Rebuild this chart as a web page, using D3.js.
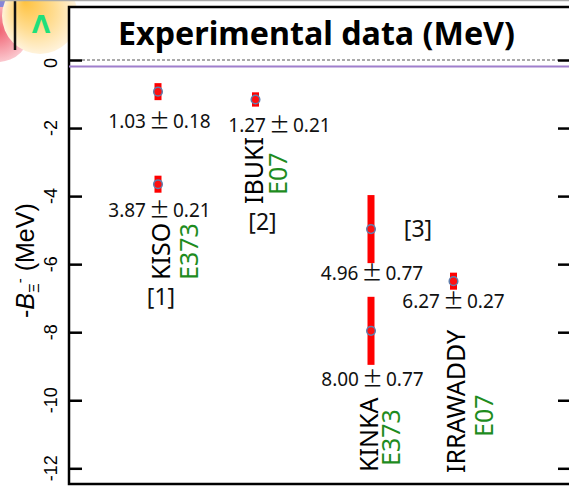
<!DOCTYPE html>
<html><head><meta charset="utf-8">
<script src="https://cdn.jsdelivr.net/npm/d3@7"></script>
<style>html,body{margin:0;padding:0;background:#fff;overflow:hidden}</style>
</head><body>
<svg id="c" width="569" height="486"></svg>
<script>
// ---- data ----
const experiments = ["KISO", "IBUKI", "KINKA", "IRRAWADDY"];
const experimentIds = ["E373", "E07", "E373", "E07"];
const references = ["[1]", "[2]", "[3]", ""];
const experimentX = [1.78, 3.73, 6.04, 7.69];          // position along the (unitless) x axis, 0..10
const pointExperiment = [0, 0, 1, 2, 2, 3];
const pointValue = [-0.93, -3.65, -1.16, -4.97, -7.96, -6.5];
const pointError = [0.25, 0.25, 0.21, 1.0, 1.0, 0.25];
const pointLabelValue = ["1.03", "3.87", "1.27", "4.96", "8.00", "6.27"];
const pointLabelError = ["0.18", "0.21", "0.21", "0.77", "0.77", "0.27"];
const yTicks = [0, -2, -4, -6, -8, -10, -12];
const thresholdValue = -0.19;

// ---- layout (pixel offsets, styling) ----
const labelOffsets = [[1.5, 36], [1.5, 32.7], [24, 32.4], [1, 51], [1.5, 55.3], [0, 27]];
const nameLayout = [ // [name dx, name start y, id dx, id start y]
  [12, 280, 40, 280], [7.3, 204, 31, 195], [7, 472, 29, 466], [11, 473, 39, 437]];
const refLayout = [[3, 305], [7, 230], [47, 237], [0, 0]];

const svg = d3.select("#c");
const pLeft = 69, pRight = 569, pTop = 7, pBottom = 484;
const x = d3.scaleLinear().domain([0, 10]).range([pLeft, pRight]);
const y = d3.scaleLinear().domain([0, -12]).range([60, 468.3]);
const FONT = "'Noto Sans', 'DejaVu Sans', sans-serif";
const GREEN = "#1e8c1e";

// ---- top-left decoration ----
const defs = svg.append("defs");
const g1 = defs.append("radialGradient").attr("id", "pinkG");
g1.append("stop").attr("offset", "0%").attr("stop-color", "#f0606f");
g1.append("stop").attr("offset", "100%").attr("stop-color", "#fbc8cf");
const g2 = defs.append("radialGradient").attr("id", "yelG").attr("fx", "30%").attr("fy", "30%");
g2.append("stop").attr("offset", "0%").attr("stop-color", "#ffc23f");
g2.append("stop").attr("offset", "55%").attr("stop-color", "#ffdc90");
g2.append("stop").attr("offset", "100%").attr("stop-color", "#fff3dc");
svg.append("circle").attr("cx", -2).attr("cy", 30).attr("r", 32).attr("fill", "url(#pinkG)");
svg.append("rect").attr("x", 0).attr("y", 0).attr("width", 10).attr("height", 7).attr("fill", "#8585d6");
svg.append("circle").attr("cx", 40).attr("cy", 16).attr("r", 38).attr("fill", "url(#yelG)");
svg.append("line").attr("x1", 15).attr("x2", 15).attr("y1", 0).attr("y2", 50)
  .attr("stroke", "#111").attr("stroke-width", 2.5);
svg.append("text").attr("x", 41).attr("y", 33).attr("text-anchor", "middle")
  .attr("font-family", "'DejaVu Sans', sans-serif").attr("font-weight", "bold")
  .attr("font-size", 24).attr("fill", "#1fe07a").text("Λ");
svg.append("line").attr("x1", 0).attr("x2", 569).attr("y1", 0.5).attr("y2", 0.5)
  .attr("stroke", "#aaa").attr("stroke-width", 1.5);

// ---- frame ----
svg.append("rect").attr("x", pLeft).attr("y", pTop).attr("width", pRight - pLeft + 10).attr("height", pBottom - pTop)
  .attr("fill", "#fff").attr("stroke", "#000").attr("stroke-width", 2.5);

// title
svg.append("text").attr("x", 118).attr("y", 45).attr("textLength", 397).attr("lengthAdjust", "spacingAndGlyphs")
  .attr("font-family", FONT).attr("font-weight", "bold").attr("font-size", 32).attr("fill", "#000")
  .text("Experimental data (MeV)");

// zero dashed line and threshold line
svg.append("line").attr("x1", pLeft + 13).attr("x2", 558).attr("y1", y(0)).attr("y2", y(0))
  .attr("stroke", "#555").attr("stroke-width", 1).attr("stroke-dasharray", "3,2");
svg.append("line").attr("x1", pLeft).attr("x2", pRight).attr("y1", y(thresholdValue)).attr("y2", y(thresholdValue))
  .attr("stroke", "#9f7fcc").attr("stroke-width", 2);

// axes
const leftAxis = d3.axisRight(y).tickValues(yTicks).tickSize(13).tickFormat("");
const gl = svg.append("g").attr("transform", `translate(${pLeft},0)`).call(leftAxis);
gl.select(".domain").remove();
gl.selectAll(".tick line").attr("stroke", "#000").attr("stroke-width", 2.5);
const rightAxis = d3.axisLeft(y).tickValues(yTicks).tickSize(11).tickFormat("");
const gr = svg.append("g").attr("transform", `translate(${pRight},0)`).call(rightAxis);
gr.select(".domain").remove();
gr.selectAll(".tick line").attr("stroke", "#000").attr("stroke-width", 2.5);

// tick labels (rotated)
svg.append("g").selectAll("text").data(yTicks).join("text")
  .attr("transform", d => `translate(57,${y(d) + (d === 0 ? 3 : 0)}) rotate(-90)`)
  .attr("text-anchor", "middle")
  .attr("font-family", "'Liberation Sans', Arial, sans-serif").attr("font-size", 18).attr("fill", "#000")
  .text(d => d);

// y axis title
const yt = svg.append("text").attr("transform", "translate(34,318) rotate(-90)")
  .attr("font-family", "'Liberation Sans', Arial, sans-serif").attr("font-size", 25).attr("fill", "#000");
yt.append("tspan").text("-");
yt.append("tspan").attr("font-style", "italic").text("B");
yt.append("tspan").attr("font-size", 15).attr("dy", 5).text("Ξ");
yt.append("tspan").attr("font-size", 15).attr("dy", -14).text("-");
yt.append("tspan").attr("dy", 9).text(" (MeV)");

// ---- error bars & points ----
const pts = pointValue.map((v, i) => ({v, e: pointError[i], xi: experimentX[pointExperiment[i]], i}));
svg.append("g").selectAll("rect").data(pts).join("rect")
  .attr("x", d => x(d.xi) - 3.5).attr("width", 7)
  .attr("y", d => y(d.v + d.e)).attr("height", d => y(d.v - d.e) - y(d.v + d.e))
  .attr("fill", "#ff0000");
svg.append("g").selectAll("circle").data(pts).join("circle")
  .attr("cx", d => x(d.xi)).attr("cy", d => y(d.v)).attr("r", 4.3)
  .attr("fill", "#ff1010").attr("stroke", "#5f7fae").attr("stroke-width", 1.5);

// value labels
const vl = svg.append("g").selectAll("text").data(pts).join("text")
  .attr("x", d => x(d.xi) + labelOffsets[d.i][0]).attr("y", d => y(d.v) + labelOffsets[d.i][1])
  .attr("text-anchor", "middle").attr("font-family", FONT).attr("font-size", 19).attr("fill", "#111");
vl.append("tspan").text(d => pointLabelValue[d.i]);
vl.append("tspan").attr("dx", 3).attr("font-family", "'Noto Sans CJK JP', sans-serif").attr("font-size", 21).text("±");
vl.append("tspan").attr("dx", 3).text(d => pointLabelError[d.i]);

// experiment names (rotated)
experiments.forEach((name, k) => {
  const L = nameLayout[k];
  svg.append("text").attr("transform", `translate(${x(experimentX[k]) + L[0]},${L[1]}) rotate(-90)`)
    .attr("font-family", FONT).attr("font-size", 25).attr("fill", "#000").text(name);
  svg.append("text").attr("transform", `translate(${x(experimentX[k]) + L[2]},${L[3]}) rotate(-90)`)
    .attr("font-family", FONT).attr("font-size", 25).attr("fill", GREEN).text(experimentIds[k]);
  if (references[k]) {
    svg.append("text").attr("x", x(experimentX[k]) + refLayout[k][0]).attr("y", refLayout[k][1])
      .attr("text-anchor", "middle").attr("font-family", FONT).attr("font-size", 23).attr("fill", "#111")
      .text(references[k]);
  }
});
</script>
</body></html>
